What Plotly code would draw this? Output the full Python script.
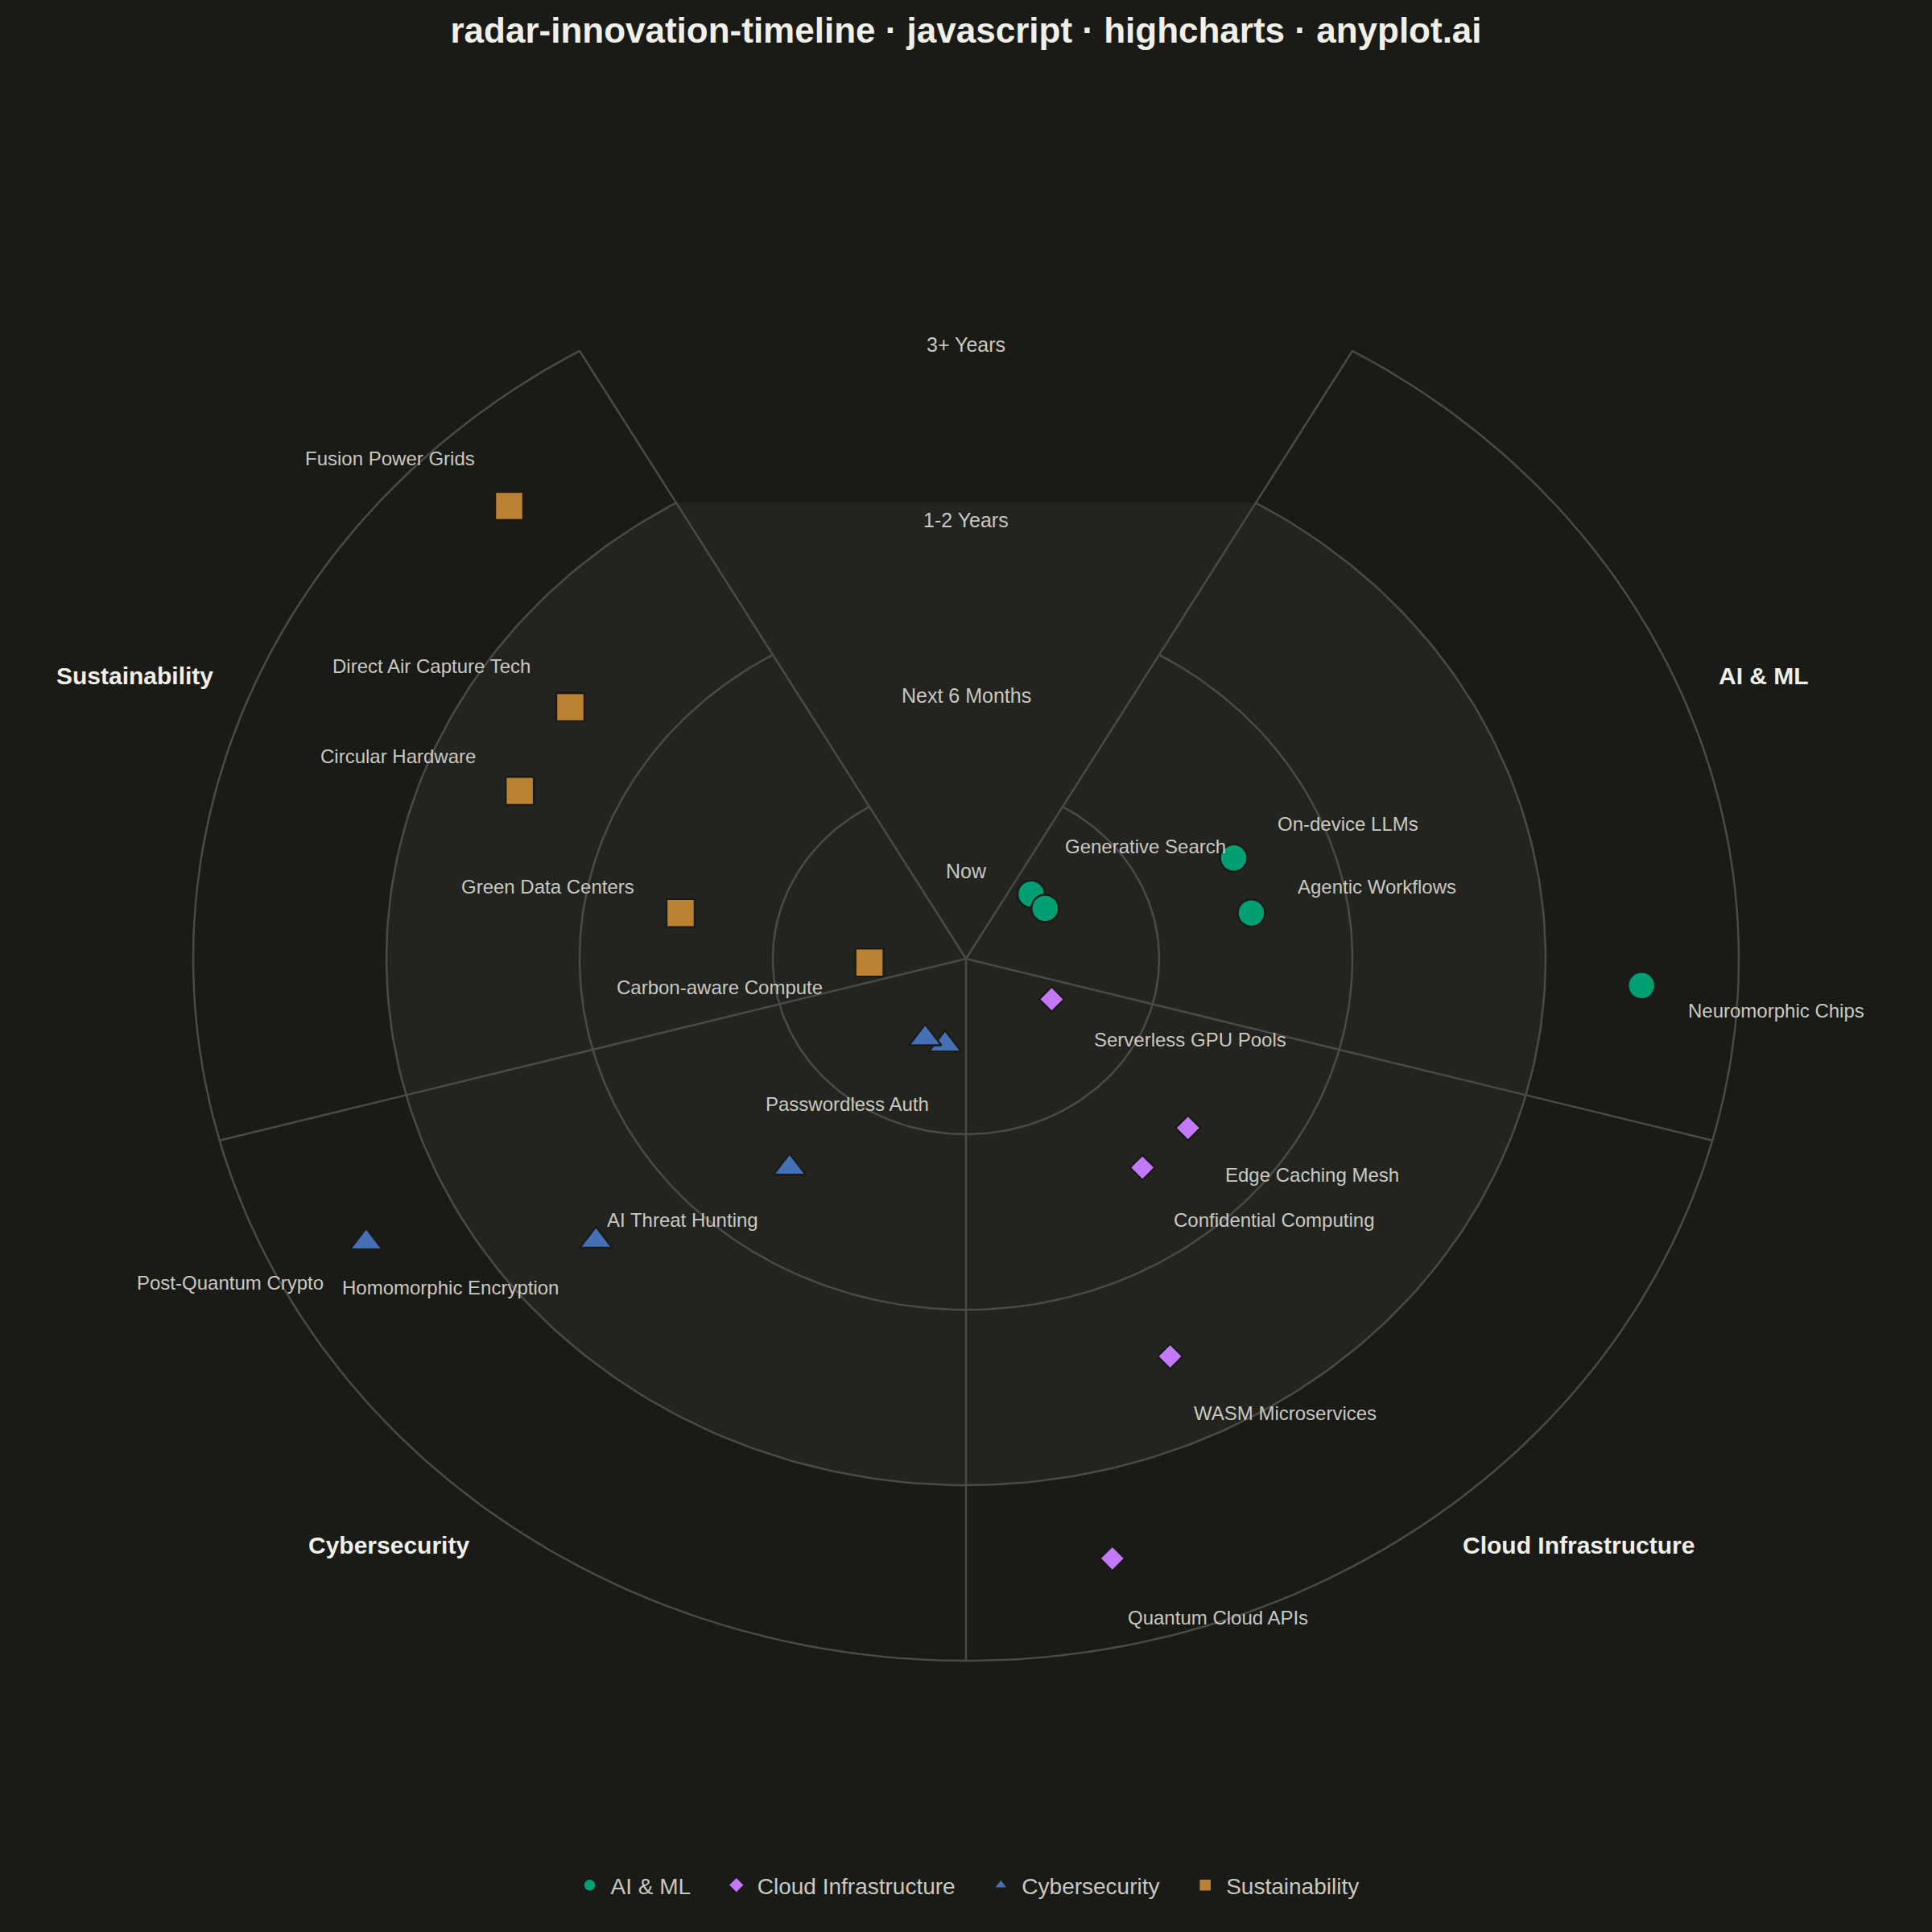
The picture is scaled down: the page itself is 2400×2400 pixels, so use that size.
import numpy as np
import plotly.graph_objects as go

# Data ------------------------------------------------------------------
rings = ["Now", "Next 6 Months", "1-2 Years", "3+ Years"]
categories = ["AI & ML", "Cloud Infrastructure", "Cybersecurity", "Sustainability"]

ai_names = ["Generative Search", "", "On-device LLMs", "Agentic Workflows", "Neuromorphic Chips"]
ai_rings = ["Now", "Now", "Next 6 Months", "Next 6 Months", "3+ Years"]

cloud_names = ["Serverless GPU Pools", "Edge Caching Mesh", "Confidential Computing",
               "WASM Microservices", "Quantum Cloud APIs"]
cloud_rings = ["Now", "Next 6 Months", "Next 6 Months", "1-2 Years", "3+ Years"]

cyber_names = ["Passwordless Auth", "", "AI Threat Hunting", "Homomorphic Encryption",
               "Post-Quantum Crypto"]
cyber_rings = ["Now", "Now", "Next 6 Months", "1-2 Years", "3+ Years"]

sust_names = ["Carbon-aware Compute", "Green Data Centers", "Circular Hardware",
              "Direct Air Capture Tech", "Fusion Power Grids"]
sust_rings = ["Now", "Next 6 Months", "1-2 Years", "1-2 Years", "3+ Years"]

# Style -----------------------------------------------------------------
BG = "#1a1a17"
INNER = "#232320"
GRID = "#4a4a46"
TEXT = "#c9c9c1"
INK = "#f0efe8"
FONT = "Liberation Sans, Arial, sans-serif"

colors = ["#009E73", "#C478FA", "#4570B6", "#BC8234"]
symbols = ["circle", "diamond", "triangle-up", "square"]
sizes = [34, 24, 35, 35]

GAP = 60                      # empty sector at the top holding ring labels
SPAN = (360 - GAP) / len(categories)
START = GAP / 2

series = [(ai_names, ai_rings), (cloud_names, cloud_rings),
          (cyber_names, cyber_rings), (sust_names, sust_rings)]

fig = go.Figure()

# lighter inner area (inside 1-2 Years ring, straight edge across the top gap)
arc = np.radians(np.linspace(START, 360 - START, 301))
fig.add_trace(go.Scatter(x=3 * np.sin(arc), y=3 * np.cos(arc), mode="lines",
                         fill="toself", fillcolor=INNER, line=dict(width=0),
                         hoverinfo="skip", showlegend=False))

# ring arcs and sector boundaries
gx, gy = [], []
for k in range(1, len(rings) + 1):
    gx += list(k * np.sin(arc)) + [None]
    gy += list(k * np.cos(arc)) + [None]
for j in range(len(categories) + 1):
    a = np.radians(START + j * SPAN)
    gx += [0, len(rings) * np.sin(a), None]
    gy += [0, len(rings) * np.cos(a), None]
fig.add_trace(go.Scatter(x=gx, y=gy, mode="lines", line=dict(color=GRID, width=2.5),
                         hoverinfo="skip", showlegend=False))

annotations = []
for k, (cat, (names, stage)) in enumerate(zip(categories, series)):
    n = len(names)
    theta = np.array([START + k * SPAN + SPAN * (i + 1) / (n + 1) for i in range(n)])
    r = np.array([rings.index(s) + 0.5 for s in stage])
    t = np.radians(theta)
    x, y = r * np.sin(t), r * np.cos(t)
    # trailing spaces widen the gap between legend entries
    legend_name = cat if k == len(categories) - 1 else cat + "\u00a0" * 3 + "\u200a"
    fig.add_trace(go.Scatter(
        x=x, y=y, mode="markers", name=legend_name,
        marker=dict(color=colors[k], size=sizes[k], symbol=symbols[k],
                    line=dict(color=BG, width=2.5)),
        hovertext=names, hoverinfo="text"))
    for i, label in enumerate(names):
        if not label:
            continue
        s, c = np.sin(t[i]), np.cos(t[i])
        dy = 25 + 46 * abs(c) if c > 0 else 29 + 46 * abs(c)
        annotations.append(dict(
            x=x[i], y=y[i], text=label, showarrow=False,
            xanchor="left" if s > 0 else "right", yanchor="middle",
            xshift=np.sign(s) * (7 + 49 * abs(s)),
            yshift=np.sign(c) * dy,
            font=dict(family=FONT, size=24, color=TEXT)))
    # sector title
    tc = np.radians(START + k * SPAN + SPAN / 2)
    annotations.append(dict(
        x=4.21 * np.sin(tc), y=4.21 * np.cos(tc), text="<b>%s</b>" % cat,
        showarrow=False, xanchor="left" if np.sin(tc) > 0 else "right",
        yanchor="middle", font=dict(family=FONT, size=30, color=INK)))

# ring labels in the top gap
for i, name in enumerate(rings):
    annotations.append(dict(x=0, y=i + 0.5, text=name, showarrow=False,
                            xanchor="center", yanchor="middle",
                            font=dict(family=FONT, size=25, color=TEXT)))

fig.update_layout(
    width=2400, height=2400,
    paper_bgcolor=BG, plot_bgcolor=BG,
    margin=dict(l=0, r=0, t=0, b=0),
    title=dict(text="<b>radar-innovation-timeline · javascript · highcharts · anyplot.ai</b>",
               x=0.5, xanchor="center", y=1 - 38 / 2400, yanchor="middle",
               font=dict(family=FONT, size=44, color=INK)),
    xaxis=dict(range=[-5, 5], visible=False, fixedrange=True),
    yaxis=dict(range=[-1209 / 218, 1191 / 218], visible=False, fixedrange=True),
    legend=dict(orientation="h", x=0.5, xanchor="center", y=1 - 2342 / 2400,
                yanchor="middle", bgcolor="rgba(0,0,0,0)", itemwidth=42,
                font=dict(family=FONT, size=28, color=TEXT)),
    annotations=annotations,
    showlegend=True,
)

fig.write_html("out.html", config={"displayModeBar": False},
               post_script="document.body.style.margin='0';document.body.style.background='%s';" % BG)
